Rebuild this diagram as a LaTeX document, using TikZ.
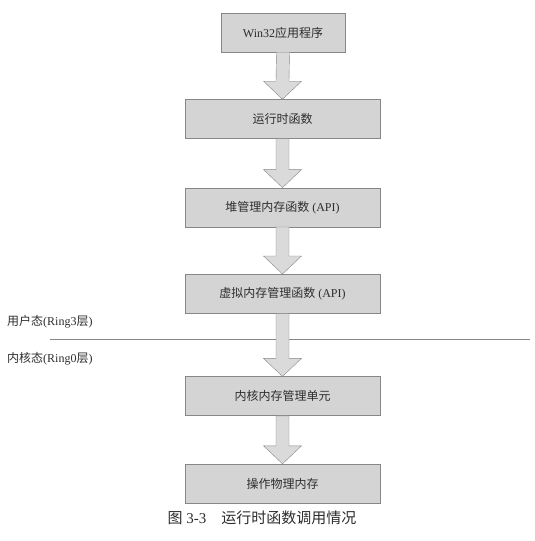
\documentclass[tikz,border=0pt]{standalone}
\usepackage{fontspec}
\setmainfont{Liberation Serif}
\newfontfamily\cjk{Noto Sans CJK SC}
\usetikzlibrary{positioning,calc}
\definecolor{boxfill}{RGB}{212,212,212}
\definecolor{boxline}{RGB}{135,135,135}
\definecolor{ink}{RGB}{45,45,45}

\begin{document}
\begin{tikzpicture}
    \tikzstyle{stage}=[rectangle, draw=boxline, fill=boxfill, text=ink, font=\fontsize{12pt}{14pt}\selectfont, minimum width=195pt, minimum height=39pt, inner sep=0pt]
    \tikzstyle{blk}=[draw=boxline, fill=boxfill!85!white, line join=miter]
    \tikzstyle{ring}=[anchor=west, text=ink, font=\fontsize{12pt}{14pt}\selectfont, inner sep=0pt]
    \useasboundingbox (0,0) rectangle (535pt,-541pt);

    \node[stage, minimum width=124pt] (app) at (283pt,-32.5pt) {Win32{\cjk 应用程序}};
    \node[stage, below=47pt of app.south, anchor=north, xshift=-0.5pt] (rt) {{\cjk 运行时函数}};
    \node[stage, below=49pt of rt] (heap) {{\cjk 堆管理内存函数} (API)};
    \node[stage, below=47pt of heap] (virt) {{\cjk 虚拟内存管理函数} (API)};
    \node[stage, below=63pt of virt] (kern) {{\cjk 内核内存管理单元}};
    \node[stage, below=48pt of kern] (phys) {{\cjk 操作物理内存}};

    % user / kernel boundary
    \draw[boxline, line width=0.8pt] (50pt,-339pt) -- (530pt,-339pt);
    \node[ring] (user) at (7pt,-322pt) {{\cjk 用户态}(Ring3{\cjk 层})};
    \node[ring] (kernel) at (7pt,-359pt) {{\cjk 内核态}(Ring0{\cjk 层})};

    % block arrows
    \foreach \s/\t in {app/rt, rt/heap, heap/virt, virt/kern, kern/phys}
        \draw[blk] ($(\s.south)+(-6.5pt,0)$) -- ($(\t.north)+(-6.5pt,18pt)$) -- ($(\t.north)+(-19pt,18pt)$) -- (\t.north)
            -- ($(\t.north)+(19pt,18pt)$) -- ($(\t.north)+(6.5pt,18pt)$) -- ($(\s.south)+(6.5pt,0)$) -- cycle;

    \node[text=ink, font=\fontsize{15pt}{17pt}\selectfont, inner sep=0pt] (cap) at (262pt,-518pt) {{\cjk 图} 3-3\quad{\cjk 运行时函数调用情况}};
\end{tikzpicture}
\end{document}
